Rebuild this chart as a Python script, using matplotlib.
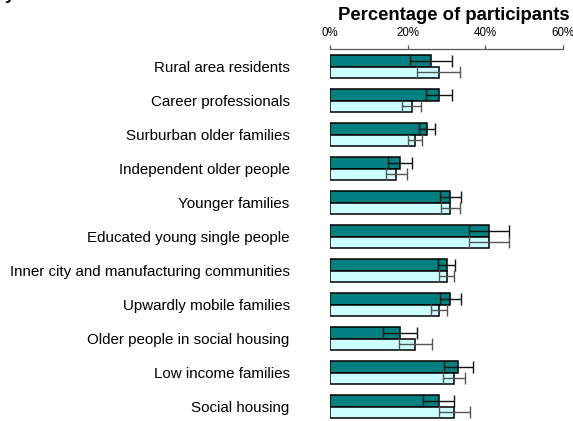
import matplotlib.pyplot as plt
import numpy as np

plt.rcParams['font.family'] = ['Liberation Sans', 'DejaVu Sans']

groups = ['Rural area residents', 'Career professionals', 'Surburban older families',
          'Independent older people', 'Younger families', 'Educated young single people',
          'Inner city and manufacturing communities', 'Upwardly mobile families',
          'Older people in social housing', 'Low income families', 'Social housing']

# two series per group, percentages with their error margins
dark_pct = [26, 28, 25, 18, 31, 41, 30, 31, 18, 33, 28]
dark_err = [5.5, 3.3, 2.0, 3.0, 2.7, 5.2, 2.3, 2.7, 4.3, 3.7, 4.0]
light_pct = [28, 21, 22, 17, 31, 41, 30, 28, 22, 32, 32]
light_err = [5.5, 2.5, 1.8, 2.7, 2.4, 5.2, 1.9, 2.1, 4.3, 2.8, 4.0]

xticks = [0, 20, 40, 60]
xtick_labels = ['0%', '20%', '40%', '60%']

fig = plt.figure(figsize=(5.73, 4.21), dpi=100)
ax = fig.add_axes([330 / 573, 0, 233 / 573, 1 - 49 / 421])

pos = np.arange(len(groups))
h = 0.338
ax.barh(pos - h / 2, dark_pct, height=h, color='#008080', edgecolor='black', linewidth=1.1)
ax.barh(pos + h / 2, light_pct, height=h, color='#CCFFFF', edgecolor='black', linewidth=1.1)
ax.errorbar(dark_pct, pos - h / 2, xerr=dark_err, fmt='none', ecolor='#111111',
            elinewidth=1.0, capsize=4, capthick=1.0)
ax.errorbar(light_pct, pos + h / 2, xerr=light_err, fmt='none', ecolor='#555555',
            elinewidth=1.0, capsize=4, capthick=1.0)

ax.set_xlim(0, 60)
ax.set_ylim(10.426, -0.515)

for s in ['bottom', 'left', 'right']:
    ax.spines[s].set_visible(False)
ax.spines['top'].set_color('#555555')
ax.spines['top'].set_linewidth(0.9)

ax.xaxis.tick_top()
ax.set_xticks(xticks)
ax.set_xticklabels(xtick_labels, fontsize=8.3)
ax.tick_params(axis='x', direction='out', length=3, width=0.9, color='#555555', pad=4)

ax.set_yticks(pos)
ax.set_yticklabels(groups, fontsize=10.9)
ax.tick_params(axis='y', length=0, pad=29)

fig.text(454 / 573, 1 - 20 / 421, 'Percentage of participants', ha='center',
         va='baseline', fontsize=13.3, fontweight='bold')
fig.text(0.008, 1.0, 'y', ha='left', va='baseline', fontsize=12.5, fontweight='bold')

fig.savefig('out.png', dpi=100)
